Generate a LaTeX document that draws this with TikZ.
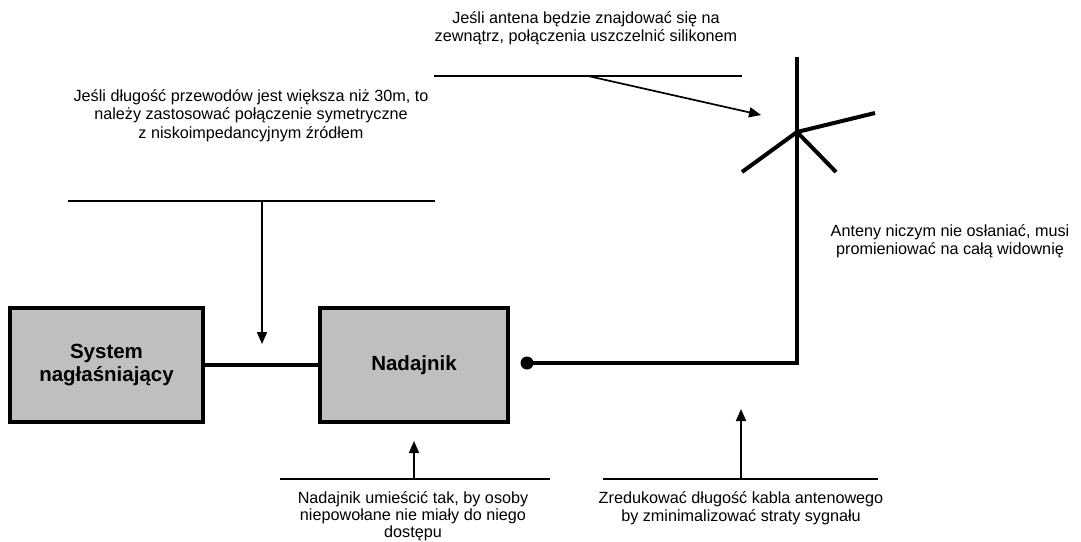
\documentclass[tikz,border=0pt]{standalone}
\usepackage{fontspec}
\setmainfont{Liberation Sans}
\usetikzlibrary{arrows.meta}

\begin{document}
\begin{tikzpicture}[x=1pt,y=-1pt,
  blok/.style={draw,line width=3.5pt,fill=gray!50,minimum height=114pt,
    align=center,font=\fontsize{20.5}{23}\selectfont\bfseries},
  uwaga/.style={align=center,inner sep=0pt,font=\fontsize{16.2}{18.7}\selectfont},
  kreska/.style={line width=1.7pt},
  strzalka/.style={line width=1.7pt,-{Triangle[length=12pt,width=10pt]}},
  kabel/.style={line width=4pt}]
\useasboundingbox (0,0) rectangle (1081,541);
% bloki
\node[blok,minimum width=193pt] (sys) at (106.5,365) {System\\na\-głaśniający};
\node[blok,minimum width=188pt] (nad) at (414,365) {Nadajnik};
\draw[kabel] (sys) -- (nad);
% kabel i antena
\node[circle,fill,inner sep=0pt,minimum size=13pt] (gniazdo) at (527,363) {};
\coordinate (kolano) at (797,363);
\coordinate (szczyt) at (797,57);
\coordinate (srodek) at (797,132);
\draw[kabel] (gniazdo.center) -- (kolano) -- (szczyt);
\draw[kabel] (srodek) -- (875,113);
\draw[kabel] (srodek) -- (742,172);
\draw[kabel] (srodek) -- (836,172);
% uwaga o antenie na zewnatrz
\node[uwaga,anchor=north] (u1) at (586,11) {Jeśli antena będzie znajdować się na\\zewnątrz, połączenia uszczelnić silikonem};
\coordinate (u1a) at (434,76); \coordinate (u1b) at (742,76);
\draw[kreska] (u1a) -- (u1b);
\coordinate (u1s) at (588,76); \coordinate (u1k) at (761,115);
\draw[strzalka] (u1s) -- (u1k);
% uwaga o przewodach
\node[uwaga,anchor=north] (u2) at (251,89) {Jeśli długość przewodów jest większa niż 30m, to\\należy zastosować połączenie symetryczne\\z niskoimpedancyjnym źródłem};
\coordinate (u2a) at (68,201); \coordinate (u2b) at (435,201);
\draw[kreska] (u2a) -- (u2b);
\coordinate (u2s) at (262,201); \coordinate (u2k) at (262,344);
\draw[strzalka] (u2s) -- (u2k);
% uwaga o promieniowaniu
\node[uwaga,anchor=north] (u3) at (950,224) {Anteny niczym nie osłaniać, musi\\promieniować na całą widownię};
% uwaga o nadajniku
\coordinate (u4a) at (280,479); \coordinate (u4b) at (550,479);
\draw[kreska] (u4a) -- (u4b);
\coordinate (u4s) at (414,479); \coordinate (u4k) at (414,441);
\draw[strzalka] (u4s) -- (u4k);
\node[uwaga,anchor=north,font=\fontsize{16.2}{17.2}\selectfont] (u4) at (413,491) {Nadajnik umieścić tak, by osoby\\niepowołane nie miały do niego\\dostępu};
% uwaga o kablu
\coordinate (u5a) at (603,479); \coordinate (u5b) at (878,479);
\draw[kreska] (u5a) -- (u5b);
\coordinate (u5s) at (741,479); \coordinate (u5k) at (741,409);
\draw[strzalka] (u5s) -- (u5k);
\node[uwaga,anchor=north] (u5) at (741,491) {Zredukować długość kabla antenowego\\by zminimalizować straty sygnału};
\end{tikzpicture}
\end{document}
